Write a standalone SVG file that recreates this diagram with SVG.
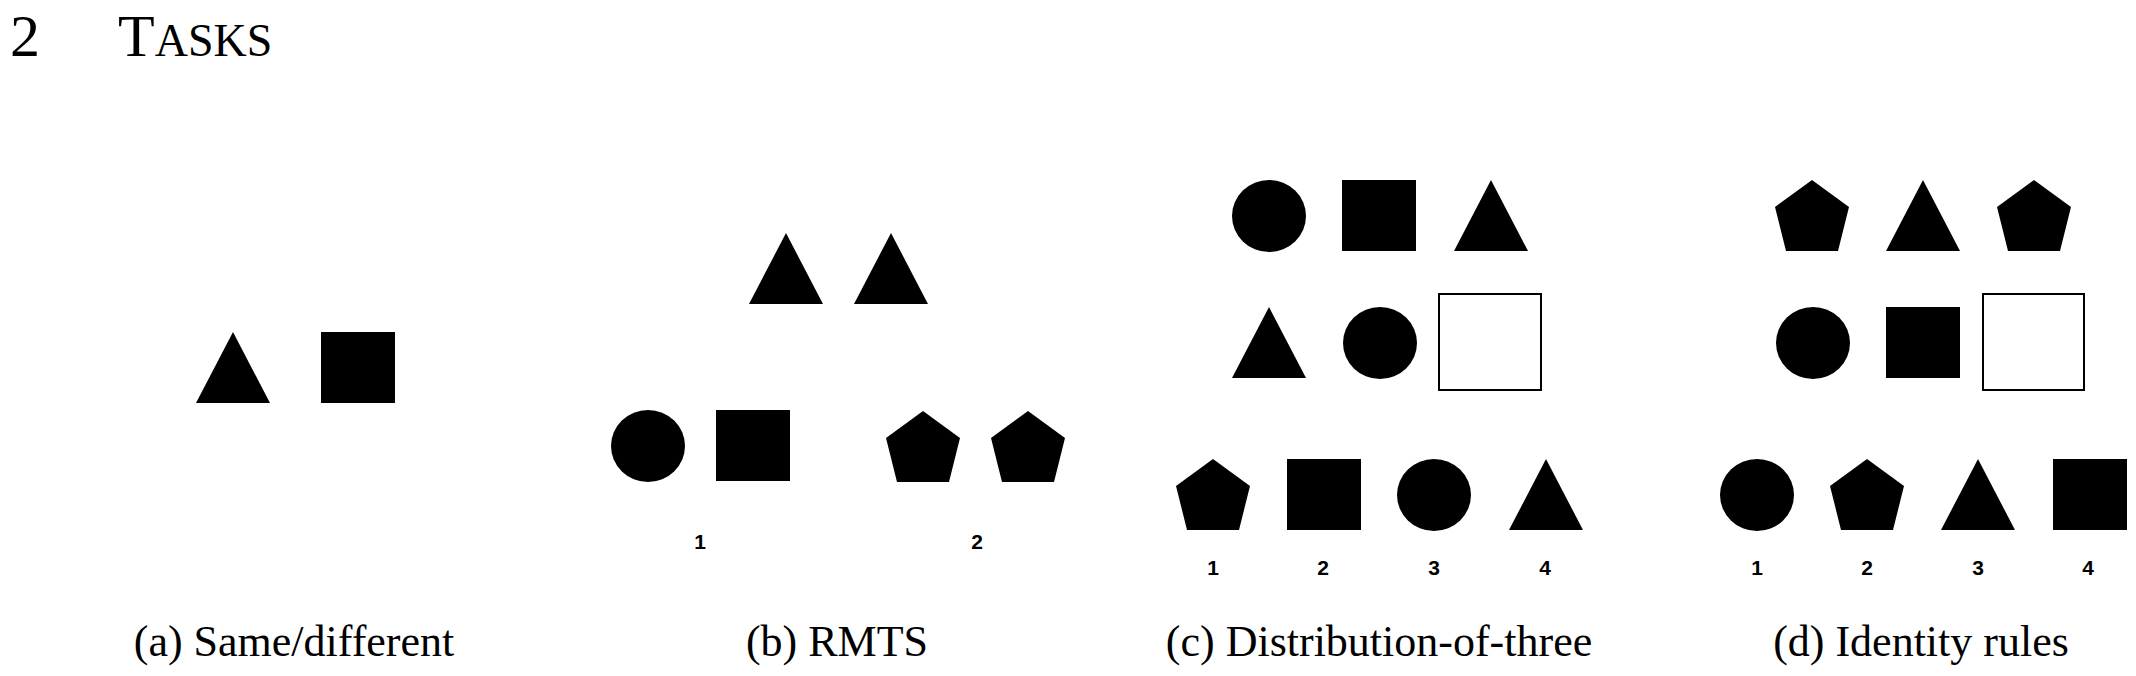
<svg xmlns="http://www.w3.org/2000/svg" width="2136" height="676" viewBox="0 0 2136 676">
<style>
.cap{font-family:"Liberation Serif",serif;font-size:44px;text-anchor:middle;fill:#000}
.num{font-family:"Liberation Sans",Arial,sans-serif;font-size:21px;font-weight:bold;text-anchor:middle;fill:#000}
.s{fill:#000}
.e{fill:#fff;stroke:#000;stroke-width:2}
</style>
<defs>
<polygon id="tri" points="37,0 74,71 0,71"/>
<rect id="sq" width="74" height="71"/>
<ellipse id="ci" cx="37" cy="36" rx="37" ry="36"/>
<polygon id="pe" points="37,0 74,27 63,71 11,71 0,27"/>
</defs>
<rect width="2136" height="676" fill="#fff"/>
<text x="10" y="56" font-family="Liberation Serif,serif" font-size="60">2<tspan x="118">T</tspan><tspan font-size="46">ASKS</tspan></text>
<g id="a" class="s">
<use href="#tri" x="196" y="332"/><use href="#sq" x="321" y="332"/>
</g>
<g id="b" class="s">
<use href="#tri" x="749" y="233"/><use href="#tri" x="854" y="233"/>
<use href="#ci" x="611" y="410"/><use href="#sq" x="716" y="410"/>
<use href="#pe" x="886" y="411"/><use href="#pe" x="991" y="411"/>
</g>
<g id="c" class="s">
<use href="#ci" x="1232" y="180"/><use href="#sq" x="1342" y="180"/><use href="#tri" x="1454" y="180"/>
<use href="#tri" x="1232" y="307"/><use href="#ci" x="1343" y="307"/>
<rect class="e" x="1439" y="294" width="102" height="96"/>
<use href="#pe" x="1176" y="459"/><use href="#sq" x="1287" y="459"/><use href="#ci" x="1397" y="459"/><use href="#tri" x="1509" y="459"/>
</g>
<g id="d" class="s">
<use href="#pe" x="1775" y="180"/><use href="#tri" x="1886" y="180"/><use href="#pe" x="1997" y="180"/>
<use href="#ci" x="1776" y="307"/><use href="#sq" x="1886" y="307"/>
<rect class="e" x="1983" y="294" width="101" height="96"/>
<use href="#ci" x="1720" y="459"/><use href="#pe" x="1830" y="459"/><use href="#tri" x="1941" y="459"/><use href="#sq" x="2053" y="459"/>
</g>
<g id="labels">
<text class="num" x="700" y="549">1</text><text class="num" x="977" y="549">2</text>
<text class="num" x="1213" y="575">1</text><text class="num" x="1323" y="575">2</text><text class="num" x="1434" y="575">3</text><text class="num" x="1545" y="575">4</text>
<text class="num" x="1757" y="575">1</text><text class="num" x="1867" y="575">2</text><text class="num" x="1978" y="575">3</text><text class="num" x="2088" y="575">4</text>
<text class="cap" x="294" y="656">(a) Same/different</text>
<text class="cap" x="837" y="656">(b) RMTS</text>
<text class="cap" x="1379" y="656">(c) Distribution-of-three</text>
<text class="cap" x="1921" y="656">(d) Identity rules</text>
</g>
</svg>
